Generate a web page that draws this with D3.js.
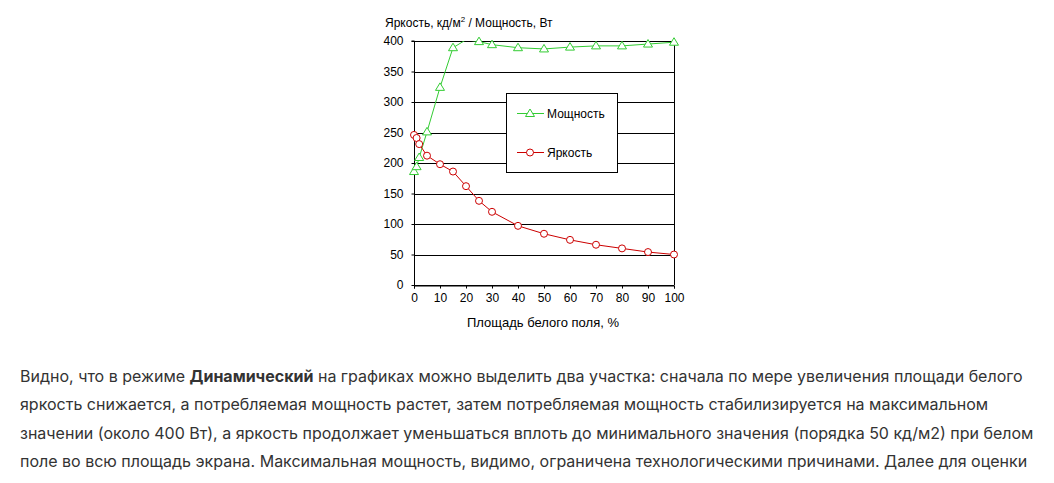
<!DOCTYPE html>
<html>
<head>
<meta charset="utf-8">
<script src="https://cdn.jsdelivr.net/npm/d3@7"></script>
<style>
  body { margin: 0; background: #fff; width: 1054px; height: 483px; overflow: hidden; position: relative; }
  #chart { position: absolute; left: 0; top: 0; }
  #chart text { font-family: "Liberation Sans", Arial, sans-serif; font-size: 12px; fill: #000; }
  #text { position: absolute; left: 20px; top: 362px; font-family: Inter, "Noto Sans", sans-serif;
          font-size: 16px; line-height: 28.4px; color: #333; }
  #text div { white-space: nowrap; }
</style>
</head>
<body>
<div id="chart"></div>
<div id="text">
  <div>Видно, что в режиме <b>Динамический</b> на графиках можно выделить два участка: сначала по мере увеличения площади белого</div>
  <div>яркость снижается, а потребляемая мощность растет, затем потребляемая мощность стабилизируется на максимальном</div>
  <div>значении (около 400 Вт), а яркость продолжает уменьшаться вплоть до минимального значения (порядка 50 кд/м2) при белом</div>
  <div>поле во всю площадь экрана. Максимальная мощность, видимо, ограничена технологическими причинами. Далее для оценки</div>
</div>
<script>
// white field area, %
var area = [0, 1, 2, 5, 10, 15, 20, 25, 30, 40, 50, 60, 70, 80, 90, 100];
// power, W
var power = [186, 194, 209, 251, 324, 389, 402, 399, 394, 389, 387, 390, 392, 392, 395, 398];
// brightness, cd/m2
var brightness = [246, 241, 231, 212, 198, 186, 162, 138, 120, 97, 84, 74, 66, 60, 54, 50];

var xTicks = [0, 10, 20, 30, 40, 50, 60, 70, 80, 90, 100];
var yTicks = [0, 50, 100, 150, 200, 250, 300, 350, 400];
var seriesNames = ["Мощность", "Яркость"];

// plot area in page pixels
var margin = {left: 414, top: 41, right: 1054 - 674, bottom: 483 - 285};
var width = 1054 - margin.left - margin.right,
    height = 483 - margin.top - margin.bottom;

var x = d3.scaleLinear().domain([0, 100]).range([0, width]);
var y = d3.scaleLinear().domain([0, 400]).range([height, 0]);

var svg = d3.select("#chart").append("svg")
    .attr("width", 1054)
    .attr("height", 483);

var g = svg.append("g")
    .attr("transform", "translate(" + margin.left + "," + margin.top + ")");

g.append("clipPath").attr("id", "plotclip")
  .append("rect").attr("width", width).attr("height", height);

// horizontal gridlines
g.append("g")
  .selectAll("line")
  .data(yTicks)
  .enter().append("line")
    .attr("x1", 0).attr("x2", width)
    .attr("y1", function(d) { return Math.round(y(d)) + 0.5; })
    .attr("y2", function(d) { return Math.round(y(d)) + 0.5; })
    .attr("stroke", "#000");

// right border
g.append("line")
  .attr("x1", width + 0.5).attr("x2", width + 0.5)
  .attr("y1", 0).attr("y2", height)
  .attr("stroke", "#000");

// Y axis
var yAxis = g.append("g")
  .attr("transform", "translate(0.5,0)")
  .call(d3.axisLeft(y).tickValues(yTicks).tickSize(3).tickPadding(8));
yAxis.selectAll("path, line").attr("stroke", "#000");
yAxis.select(".domain").attr("d", "M-3," + y(400) + "H0V" + y(0));

// X axis
var xAxis = g.append("g")
  .attr("transform", "translate(0," + (height + 0.5) + ")")
  .call(d3.axisBottom(x).tickValues(xTicks).tickSize(3).tickPadding(5));
xAxis.selectAll("path, line").attr("stroke", "#000");

svg.selectAll(".tick text")
  .style("font-family", "'Liberation Sans', Arial, sans-serif")
  .style("font-size", "12px")
  .attr("fill", "#000");

// lines
var colors = ["#33cc33", "#cc0000"];
var seriesData = [power, brightness];

var line = d3.line()
  .x(function(d, i) { return x(area[i]); })
  .y(function(d) { return y(d); });

seriesData.forEach(function(vals, s) {
  g.append("path")
    .datum(vals)
    .attr("clip-path", "url(#plotclip)")
    .attr("fill", "none")
    .attr("stroke", colors[s])
    .attr("stroke-width", 1)
    .attr("d", line);
});

function triangle(sel) {
  sel.attr("d", "M0,-4.5L4.5,3L-4.5,3Z");
}

// power markers (not drawn beyond the axis maximum)
g.append("g").selectAll("path")
  .data(power.map(function(v, i) { return {x: area[i], v: v}; })
        .filter(function(d) { return d.v <= 400; }))
  .enter().append("path")
    .attr("transform", function(d) { return "translate(" + x(d.x) + "," + y(d.v) + ")"; })
    .call(triangle)
    .attr("fill", "#fff")
    .attr("stroke", colors[0]);

// brightness markers
g.append("g").selectAll("circle")
  .data(brightness.map(function(v, i) { return {x: area[i], v: v}; }))
  .enter().append("circle")
    .attr("cx", function(d) { return x(d.x); })
    .attr("cy", function(d) { return y(d.v); })
    .attr("r", 3.5)
    .attr("fill", "#fff")
    .attr("stroke", colors[1]);

// legend
var legend = svg.append("g").attr("transform", "translate(506,93)");
legend.append("rect")
  .attr("x", 0.5).attr("y", 0.5)
  .attr("width", 111).attr("height", 79)
  .attr("fill", "#fff").attr("stroke", "#000");

seriesNames.forEach(function(name, s) {
  var ly = s === 0 ? 20 : 59;
  var item = legend.append("g").attr("transform", "translate(0," + ly + ")");
  item.append("line")
    .attr("x1", 11).attr("x2", 38).attr("y1", 0.5).attr("y2", 0.5)
    .attr("stroke", colors[s]);
  if (s === 0) {
    item.append("path")
      .attr("transform", "translate(24,0.5)")
      .call(triangle)
      .attr("fill", "#fff").attr("stroke", colors[s]);
  } else {
    item.append("circle")
      .attr("cx", 24).attr("cy", 0.5).attr("r", 3.5)
      .attr("fill", "#fff").attr("stroke", colors[s]);
  }
  item.append("text")
    .attr("x", 41).attr("y", 4.5)
    .text(name);
});

// axis titles
var yTitle = svg.append("text")
  .attr("x", 385).attr("y", 27);
yTitle.append("tspan").text("Яркость, кд/м");
yTitle.append("tspan").attr("dy", -5).style("font-size", "8px").text("2");
yTitle.append("tspan").attr("dy", 5).text(" / Мощность, Вт");

svg.append("text")
  .attr("x", 543).attr("y", 327)
  .attr("text-anchor", "middle")
  .style("font-size", "13px")
  .text("Площадь белого поля, %");
</script>
</body>
</html>
